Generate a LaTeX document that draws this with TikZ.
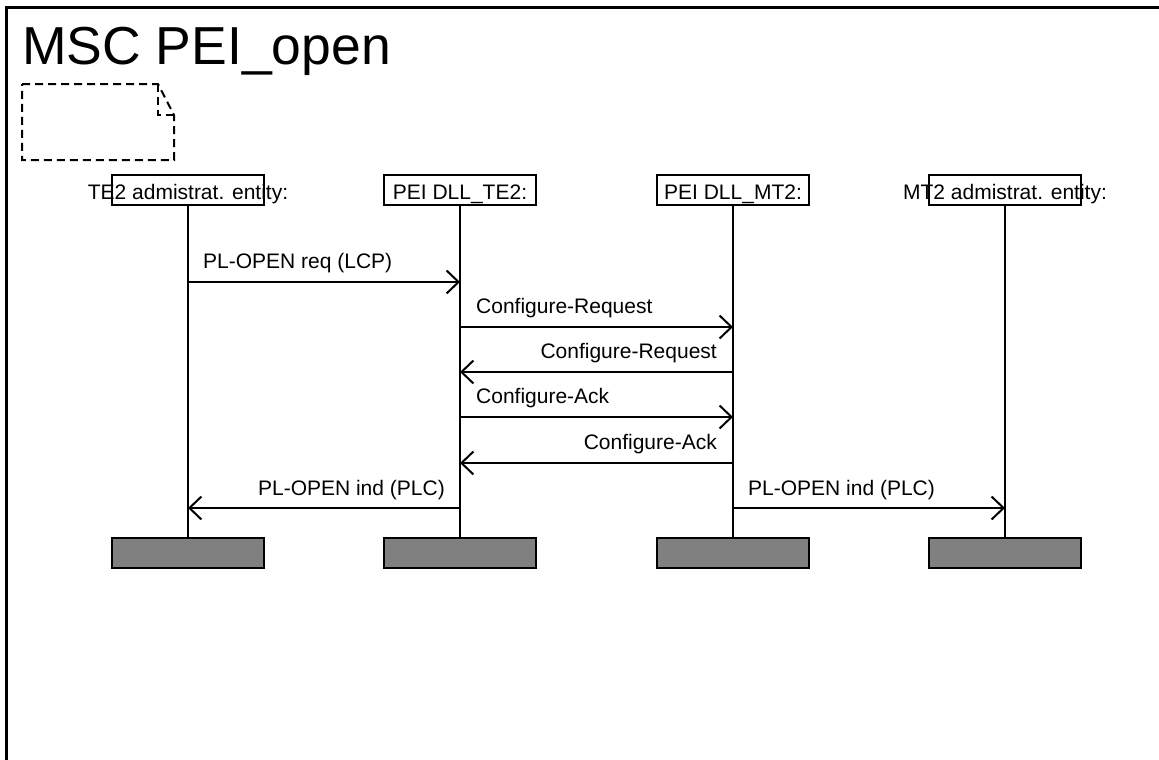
\documentclass[tikz,border=0pt]{standalone}
\usepackage{fontspec}
\setmainfont{Liberation Sans}
\usetikzlibrary{arrows.meta}
\definecolor{endgray}{HTML}{808080}
\tikzset{
  frameline/.style={line width=3pt},
  headbox/.style={draw, line width=2pt, minimum width=152pt, minimum height=30pt, inner sep=0pt},
  headtext/.style={anchor=base, inner sep=0pt, font=\fontsize{21}{25}\selectfont},
  endbox/.style={draw, line width=2pt, fill=endgray, minimum width=152pt, minimum height=30pt, inner sep=0pt},
  lifeline/.style={line width=2pt},
  msg/.style={line width=2pt, -{Straight Barb[length=12pt, width=23pt, line width=2pt]}},
  msgtext/.style={inner sep=0pt, font=\fontsize{21}{25}\selectfont},
  note/.style={line width=2pt, dash pattern=on 8pt off 5pt},
}
\begin{document}
\begin{tikzpicture}[x=1pt, y=-1pt]
\useasboundingbox (0,0) rectangle (1159,760);

% diagram frame, open to the right and bottom
\draw[frameline] (1159,8) -- (6,8) -- (6,760);
\node[anchor=base west, inner sep=0pt, font=\fontsize{53.5}{60}\selectfont] (title) at (22,64) {MSC PEI\_open};

% comment symbol with folded corner
\draw[note] (22,84) -- (158,84) -- (174,115) -- (174,160) -- (22,160) -- cycle;
\draw[note] (158,84) -- (158,115) -- (174,115);

% instance heads
\node[headbox] (te)  at (188,190) {};
\node[headbox] (dte) at (460,190) {};
\node[headbox] (dmt) at (733,190) {};
\node[headbox] (mt)  at (1005,190) {};
\node[headtext] (teT)  at (188,199) {TE2 admistrat. entity:};
\node[headtext] (dteT) at (460,199) {PEI DLL\_TE2:};
\node[headtext] (dmtT) at (733,199) {PEI DLL\_MT2:};
\node[headtext] (mtT)  at (1005,199) {MT2 admistrat. entity:};

% instance ends
\node[endbox] (teE)  at (188,553) {};
\node[endbox] (dteE) at (460,553) {};
\node[endbox] (dmtE) at (733,553) {};
\node[endbox] (mtE)  at (1005,553) {};

% lifelines
\draw[lifeline] (te.south) -- (teE.north);
\draw[lifeline] (dte.south) -- (dteE.north);
\draw[lifeline] (dmt.south) -- (dmtE.north);
\draw[lifeline] (mt.south) -- (mtE.north);

% message levels
\coordinate (y1) at (0,282);
\coordinate (y2) at (0,327);
\coordinate (y3) at (0,372);
\coordinate (y4) at (0,417);
\coordinate (y5) at (0,463);
\coordinate (y6) at (0,508);

% messages
\draw[msg] (te.south |- y1) -- (dte.south |- y1);
\node[msgtext, anchor=base west] (l1) at (203,268) {PL-OPEN req (LCP)};

\draw[msg] (dte.south |- y2) -- (dmt.south |- y2);
\node[msgtext, anchor=base west] (l2) at (476,313) {Configure-Request};

\draw[msg] (dmt.south |- y3) -- (dte.south |- y3);
\node[msgtext, anchor=base east] (l3) at (717,358) {Configure-Request};

\draw[msg] (dte.south |- y4) -- (dmt.south |- y4);
\node[msgtext, anchor=base west] (l4) at (476,403) {Configure-Ack};

\draw[msg] (dmt.south |- y5) -- (dte.south |- y5);
\node[msgtext, anchor=base east] (l5) at (717,449) {Configure-Ack};

\draw[msg] (dte.south |- y6) -- (te.south |- y6);
\node[msgtext, anchor=base east] (l6) at (445,495) {PL-OPEN ind (PLC)};

\draw[msg] (dmt.south |- y6) -- (mt.south |- y6);
\node[msgtext, anchor=base west] (l7) at (748,495) {PL-OPEN ind (PLC)};
\end{tikzpicture}
\end{document}
